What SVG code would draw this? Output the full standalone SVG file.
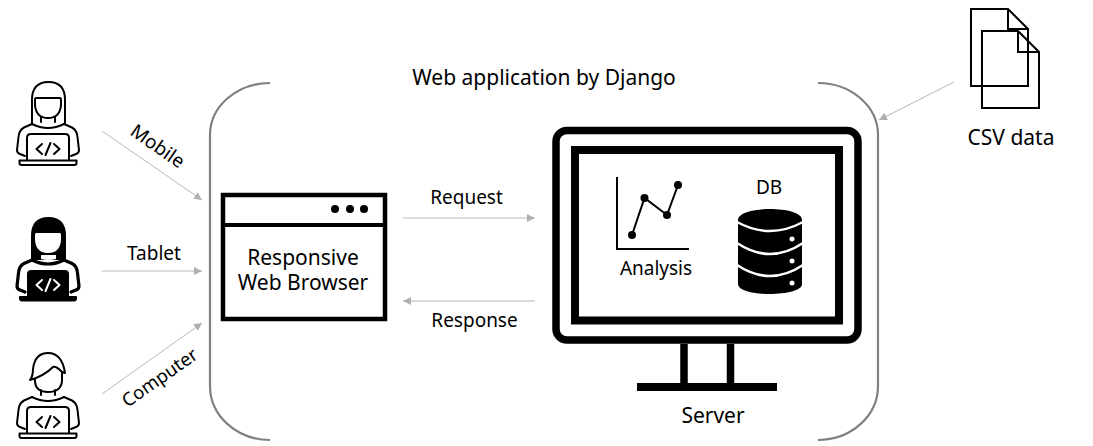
<svg xmlns="http://www.w3.org/2000/svg" width="1093" height="446" viewBox="0 0 1093 446">
<defs>
<marker id="ah" markerUnits="userSpaceOnUse" markerWidth="9" markerHeight="8" refX="8" refY="4" orient="auto"><path d="M0 0L8 4L0 8Z" fill="#b0b0b0"/></marker>
<path id="arms" d="M32 124L24 127.500Q19 130 18.500 137L17 150Q17 153 20 154L25 156M64 124L72 127.500Q77 130 77.500 137L79 150Q79 153 76 154L71 156"/>
<path id="collar" d="M41 117V122M55 117V122M32 124Q48 132 64 124"/>
<path id="base" d="M19.500 160.500H76.500V163Q76.500 165 74.500 165H21.500Q19.500 165 19.500 163Z"/>
<path id="code" d="M42 144L36.500 149L42 154M54 144L59.500 149L54 154M50.500 143L45.500 155"/>
</defs>
<style>
text{font-family:"Noto Sans","Open Sans","DejaVu Sans",sans-serif;fill:#000;font-size:19px}
.c{text-anchor:middle}
.b{font-size:21px}
.arrow{fill:none;stroke:#b8b8b8;stroke-width:1;marker-end:url(#ah)}
.bracket{fill:none;stroke:#808080;stroke-width:2.200}
.k{fill:none;stroke:#000;stroke-width:2;stroke-linecap:round;stroke-linejoin:round}
.thick{stroke-width:3.200}
</style>
<rect width="1093" height="446" fill="#fff"/>
<g id="connectors">
<path class="arrow" d="M102 131L202 200"/>
<path class="arrow" d="M102 271H202"/>
<path class="arrow" d="M102 394L202 323"/>
<path class="arrow" d="M403 218H535"/>
<path class="arrow" d="M535 301H403"/>
<path class="arrow" d="M954 82L879 120"/>
</g>
<g id="frame">
<path class="bracket" d="M270 83A60 52 0 0 0 210 135V386A60 54 0 0 0 270 440"/>
<path class="bracket" d="M818 83A60 52 0 0 1 878 135V386A60 54 0 0 1 818 440"/>
<text class="c b" x="544" y="85">Web application by Django</text>
</g>
<g id="user-mobile">
<g class="k">
<path d="M32 123V100Q32 82 48.500 82Q65 82 65 100V123"/>
<path d="M36 98H60Q61 98 61 100V105Q60 118 48 118Q36 118 35 105V100Q35 98 36 98Z"/>
<use href="#arms"/><use href="#collar"/>
<path d="M27 160V138Q27 134 31 134H65Q69 134 69 138V160"/>
<use href="#base"/><use href="#code"/>
</g>
</g>
<g id="user-tablet" transform="translate(0,136)">
<g class="k thick">
<use href="#arms"/><use href="#collar"/>
</g>
<path d="M31 124V100Q31 81 48.500 81Q66 81 66 100V124Q48 124 31 124Z" fill="#000"/>
<path d="M36 97H60Q61 97 61 99V104Q60 117 48 117Q36 117 35 104V99Q35 97 36 97Z" fill="#fff"/>
<path d="M41 119H56V123Q48 125 41 123Z" fill="#fff"/>
<path d="M27 138Q27 134 31 134H65Q69 134 69 138V161H27Z" fill="#000"/>
<use href="#base" fill="#000" stroke="#000" stroke-width="1"/>
<use href="#code" fill="none" stroke="#fff" stroke-width="2" stroke-linecap="round" stroke-linejoin="round"/>
</g>
<g id="user-computer" transform="translate(0,273)">
<g class="k">
<path d="M30 107Q33 103 33 96Q35 80 48 80Q62 80 65 100L62 99Q56 93 53 94Q44 103 30 107Z"/>
<path d="M35 106V109Q36 119 48 119Q61 119 62 108V99"/>
<use href="#arms"/><use href="#collar"/>
<path d="M27 160V138Q27 134 31 134H65Q69 134 69 138V160"/>
<use href="#base"/><use href="#code"/>
</g>
</g>
<g id="browser">
<rect x="223" y="195" width="162" height="124" fill="#fff" stroke="#000" stroke-width="4.500"/>
<path d="M222 225H386" stroke="#000" stroke-width="4"/>
<circle cx="335" cy="209" r="4"/><circle cx="350" cy="209" r="4"/><circle cx="364" cy="209" r="4"/>
<text class="c b" y="265"><tspan x="303">Responsive</tspan><tspan x="303" dy="25">Web Browser</tspan></text>
</g>
<g id="labels">
<text x="129" y="134" transform="rotate(35 129 134)">Mobile</text>
<text class="c" x="154" y="260">Tablet</text>
<text x="127.500" y="408" transform="rotate(-35 127.500 408)" style="font-size:18.500px">Computer</text>
<text class="c" x="466.500" y="204">Request</text>
<text class="c" x="474.500" y="327">Response</text>
</g>
<g id="server">
<rect x="556" y="130.500" width="302" height="209.500" rx="11" fill="none" stroke="#000" stroke-width="7.500"/>
<rect x="575" y="150" width="264" height="170.500" fill="none" stroke="#000" stroke-width="8"/>
<path d="M684 344V384M730.500 344V384" stroke="#000" stroke-width="7.500"/>
<path d="M637 387H777" stroke="#000" stroke-width="8"/>
<text class="c b" x="713" y="423">Server</text>
</g>
<g id="analysis">
<path d="M617 177V249H689" fill="none" stroke="#000" stroke-width="2"/>
<path d="M632 235L644.500 198L667 215L678 185" fill="none" stroke="#000" stroke-width="2"/>
<circle cx="632" cy="235" r="4"/><circle cx="644.500" cy="198" r="4"/><circle cx="667" cy="215" r="4"/><circle cx="678" cy="185" r="4"/>
<text class="c" x="656" y="275">Analysis</text>
</g>
<g id="db">
<text class="c" x="769" y="194">DB</text>
<path d="M738 220C738 205.300 802 205.300 802 220V284C802 297.300 738 297.300 738 284Z"/>
<path d="M737 222Q770 240 803 222M737 243Q770 265 803 243M737 265Q770 287 803 265" fill="none" stroke="#fff" stroke-width="2.500"/>
<circle cx="792" cy="239" r="2.500" fill="#fff"/><circle cx="792" cy="261" r="2.500" fill="#fff"/><circle cx="792" cy="283" r="2.500" fill="#fff"/>
</g>
<g id="csv">
<path d="M971 9H1008L1028 29V86H971Z M1008 9V29H1028" fill="none" stroke="#000" stroke-width="2"/>
<path d="M982 31H1018L1039 52V108H982Z M1018 31V52H1039" fill="none" stroke="#000" stroke-width="2"/>
<text class="c b" x="1011" y="145">CSV data</text>
</g>
</svg>
